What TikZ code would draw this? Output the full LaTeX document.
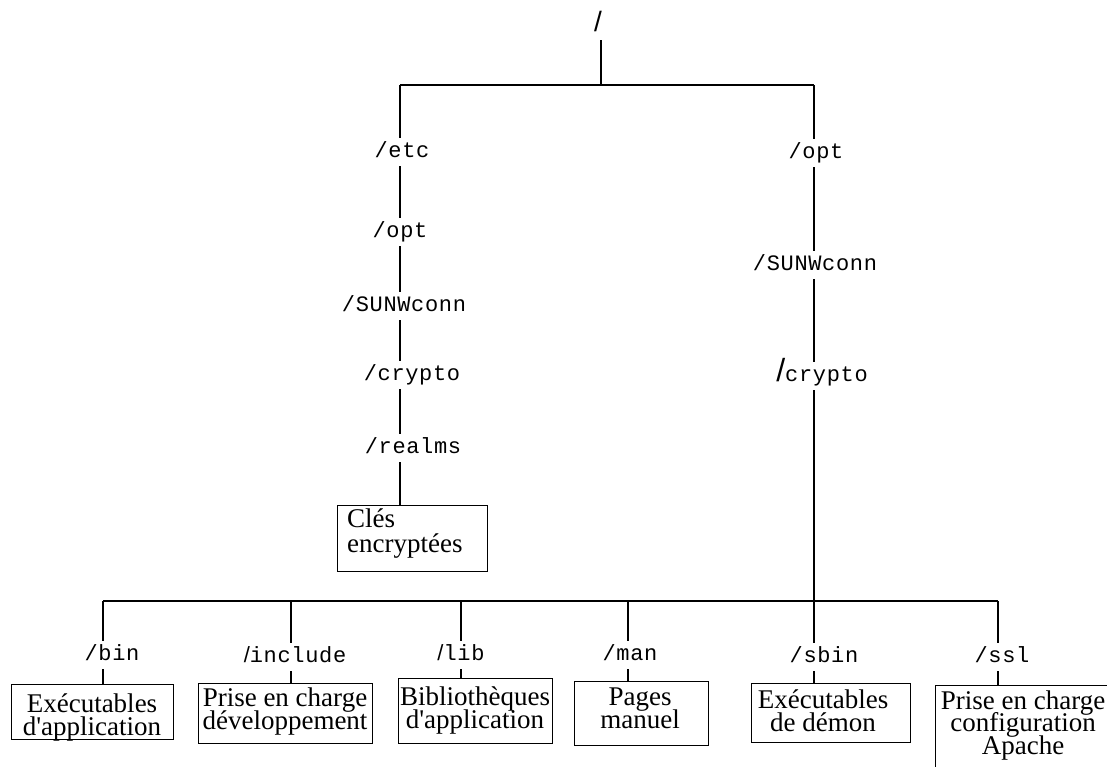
\documentclass[tikz,border=0pt]{standalone}
\usepackage{fontspec}
\setmainfont{Liberation Serif}
\newfontfamily\boxserif{Liberation Serif}
\newfontfamily\monof[LetterSpace=3]{Liberation Mono}
\newfontfamily\sansf{Liberation Sans}
\begin{document}
\begin{tikzpicture}[x=1pt,y=-1pt,
  lbl/.style={font=\monof\fontsize{22}{24}\selectfont, inner xsep=0pt, inner ysep=5pt, text height=14pt, text depth=4pt, anchor=base},
  wire/.style={line width=2pt},
  boxst/.style={draw, line width=1.2pt, inner sep=0pt, anchor=north west},
  boxtxt/.style={font={\boxserif\fontsize{27}{22.5}\selectfont\lineskiplimit=-30pt}, align=center, inner sep=0pt, anchor=base}]
\useasboundingbox (0,0) rectangle (1107,766);
\clip (0,0) rectangle (1107,766);
\fill[white] (0,0) rectangle (1107,766);
% top
\node[lbl, font=\sansf\fontsize{28}{30}\selectfont] (root) at (598,31) {/};
\coordinate (topM) at (601,85);
\coordinate (topL) at (400,85);
\coordinate (topR) at (814,85);
\draw[wire] (root.south -| topM) -- (topM);
\draw[wire] (topL) -- (topR);
% left chain
\node[lbl] (etcL) at (402,157) {/etc};
\node[lbl] (optL) at (400,237) {/opt};
\node[lbl] (sunwL) at (404,311) {/SUNWconn};
\node[lbl] (cryptoL) at (412,380) {/crypto};
\node[lbl] (realmsL) at (413,453) {/realms};
\node[boxst, minimum width=150pt, minimum height=66pt] (clesbox) at (337,505) {};
\node[font={\boxserif\fontsize{27}{25}\selectfont\lineskiplimit=-30pt}, align=left, inner sep=0pt, anchor=base west] (clestxt) at (347,552) {Clés\\encryptées};
\draw[wire] (topL) -- (topL |- etcL.north);
\draw[wire] (topL |- etcL.south) -- (topL |- optL.north);
\draw[wire] (topL |- optL.south) -- (topL |- sunwL.north);
\draw[wire] (topL |- sunwL.south) -- (topL |- cryptoL.north);
\draw[wire] (topL |- cryptoL.south) -- (topL |- realmsL.north);
\draw[wire] (topL |- realmsL.south) -- (topL |- clesbox.north);
% right chain
\node[lbl] (optR) at (816,158) {/opt};
\node[lbl] (sunwR) at (815,270) {/SUNWconn};
\node[lbl] (cryptoR) at (822,381) {{\sansf\fontsize{32}{32}\selectfont/}crypto};
\coordinate (botM) at (814,601);
\coordinate (botL) at (103,601);
\coordinate (botR) at (998,601);
\draw[wire] (topR) -- (topR |- optR.north);
\draw[wire] (topR |- optR.south) -- (topR |- sunwR.north);
\draw[wire] (topR |- sunwR.south) -- (topR |- cryptoR.north);
\draw[wire] (topR |- cryptoR.south) -- (botM);
\draw[wire] (botL) -- (botR);
% bottom children
\coordinate (cA) at (103,601);
\coordinate (cB) at (291,601);
\coordinate (cC) at (461,601);
\coordinate (cD) at (628,601);
\coordinate (cE) at (814,601);
\coordinate (cF) at (998,601);
\node[lbl] (bin) at (112,660) {/bin};
\node[lbl] (include) at (295,662) {{\sansf/}include};
\node[lbl] (lib) at (461,660) {{\sansf/}lib};
\node[lbl] (man) at (630,660) {/man};
\node[lbl] (sbin) at (824,662) {/sbin};
\node[lbl] (ssl) at (1002,662) {/ssl};
\node[boxst, minimum width=162pt, minimum height=55pt] (binbox) at (11,684) {};
\node[boxst, minimum width=174pt, minimum height=60pt] (includebox) at (198,683) {};
\node[boxst, minimum width=154pt, minimum height=65pt] (libbox) at (398,678) {};
\node[boxst, minimum width=134pt, minimum height=64pt] (manbox) at (574,681) {};
\node[boxst, minimum width=159pt, minimum height=59pt] (sbinbox) at (751,683) {};
\node[boxst, minimum width=200pt, minimum height=120pt] (sslbox) at (935,685) {};
\node[boxtxt] (bintxt) at (92,735) {Exécutables\\d'application};
\node[boxtxt] (includetxt) at (285,729) {Prise en charge\\développement};
\node[boxtxt] (libtxt) at (475,728) {Bibliothèques\\d'application};
\node[boxtxt] (mantxt) at (640,728) {Pages\\manuel};
\node[boxtxt] (sbintxt) at (823,731) {Exécutables\\de démon};
\node[boxtxt] (ssltxt) at (1023,754) {Prise en charge\\configuration\\Apache};
\foreach \c/\l/\b in {cA/bin/binbox, cB/include/includebox, cC/lib/libbox, cD/man/manbox, cE/sbin/sbinbox, cF/ssl/sslbox}{
  \draw[wire] (\c) -- (\c |- \l.north);
  \draw[wire] (\c |- \l.south) -- (\c |- \b.north);
}
\end{tikzpicture}
\end{document}
